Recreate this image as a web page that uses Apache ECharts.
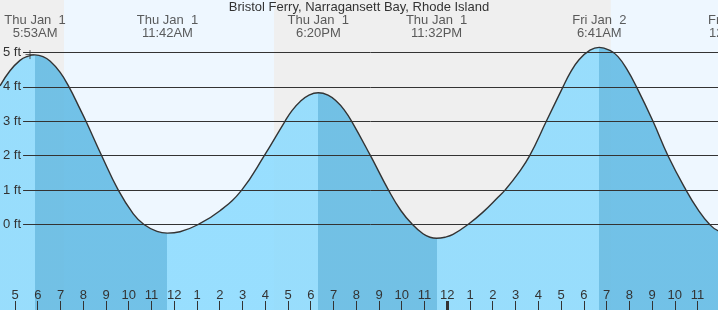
<!DOCTYPE html>
<html><head><meta charset="utf-8">
<script src="https://cdn.jsdelivr.net/npm/echarts@6/dist/echarts.min.js"></script>
<style>html,body{margin:0;padding:0;background:#fff}#c{width:718px;height:310px}</style>
</head><body><div id="c"></div>
<script>
const titleText = 'Bristol Ferry, Narragansett Bay, Rhode Island';
// hours since midnight, Thu Jan 1
const tideTimes = [4.341, 4.780, 5.220, 5.527, 5.883, 6.231, 6.538, 6.978, 7.374, 7.857, 8.121, 8.811, 9.541,
  10.200, 10.670, 11.242, 11.700, 12.253, 13.057, 14.011, 14.965, 15.958, 16.868, 17.176, 17.527, 17.923,
  18.333, 18.758, 19.154, 19.462, 19.800, 20.626, 21.418, 21.967, 22.473, 22.934, 23.242, 23.533, 23.901,
  24.253, 24.912, 25.571, 26.231, 26.538, 27.110, 27.624, 28.354, 29.088, 29.396, 29.791, 30.275, 30.683,
  31.154, 31.505, 31.901, 32.319, 33.044, 33.703, 34.495, 35.022, 35.536, 35.901, 36.650];
const tideHeights = [4.03, 4.47, 4.77, 4.88, 4.93, 4.88, 4.75, 4.43, 4.0, 3.36, 3.0, 2.0, 1.0,
  0.31, 0.0, -0.20, -0.25, -0.21, 0.0, 0.40, 1.0, 2.0, 3.0, 3.31, 3.57, 3.76,
  3.83, 3.76, 3.57, 3.34, 3.0, 2.0, 1.0, 0.40, 0.0, -0.27, -0.37, -0.40, -0.37,
  -0.29, 0.0, 0.36, 0.79, 1.0, 1.48, 2.0, 3.0, 4.0, 4.40, 4.79, 5.07, 5.15,
  5.06, 4.88, 4.51, 4.0, 3.0, 2.0, 1.0, 0.43, 0.0, -0.18, -0.30];
const extremeTimes = [5.883, 11.7, 18.333, 23.533, 30.683, 36.65];
const extremeLabels = ['Thu Jan  1\n5:53AM', 'Thu Jan  1\n11:42AM', 'Thu Jan  1\n6:20PM',
  'Thu Jan  1\n11:32PM', 'Fri Jan  2\n6:41AM', 'Fri Jan  2\n12:39PM'];
const fallingStarts = [5.883, 18.333, 30.683];
const fallingEnds = [11.7, 23.533, 36.65];
const nightStarts = [4.341, 16.385];
const nightEnds = [7.154, 31.185];
const hourTicks = [5,6,7,8,9,10,11,12,13,14,15,16,17,18,19,20,21,22,23,24,25,26,27,28,29,30,31,32,33,34,35,36];
const midnightTicks = [24];
const heightTicks = [0, 1, 2, 3, 4, 5];
const nowMarker = [[5.66, 4.94]];

const xMin = 4.341, xMax = 35.901, yMin = -2.4855, yMax = 6.5262;
const labelLevel = 5.75;
const FONT = '"Liberation Sans", Arial, sans-serif';
const TXT = '#333';
const FS = 13;
const light = 'rgb(137,218,254)', dark = 'rgb(92,184,227)';

const chart = echarts.init(document.getElementById('c'), null, {renderer: 'canvas'});
chart.setOption({
  animation: false,
  backgroundColor: '#eef7ff',
  textStyle: {fontFamily: FONT},
  title: {text: titleText, left: 'center', top: 1, padding: 0,
    textStyle: {fontSize: FS, fontWeight: 'normal', color: TXT, fontFamily: FONT}},
  grid: [{left: 0, right: 0, top: 0, bottom: 0}, {left: 22, right: 0, top: 0, bottom: 0}],
  xAxis: [
    {gridIndex: 0, type: 'value', min: xMin, max: xMax, position: 'bottom', z: 10,
      axisLine: {show: false, onZero: false}, splitLine: {show: false},
      axisTick: {show: true, inside: true, length: 9, customValues: hourTicks, lineStyle: {color: TXT, width: 1}},
      axisLabel: {show: true, inside: true, margin: 8, customValues: hourTicks, color: TXT, fontSize: FS, fontFamily: FONT,
        hideOverlap: false, formatter: v => String((Math.round(v) % 12) || 12)}},
    {gridIndex: 0, type: 'value', min: xMin, max: xMax, position: 'bottom', z: 10,
      axisLine: {show: false, onZero: false}, splitLine: {show: false}, axisLabel: {show: false},
      axisTick: {show: true, inside: true, length: 9, customValues: midnightTicks, lineStyle: {color: TXT, width: 3}}},
    {gridIndex: 1, type: 'value', min: 0, max: 1, show: false}
  ],
  yAxis: [
    {gridIndex: 0, type: 'value', min: yMin, max: yMax, show: false},
    {gridIndex: 1, type: 'value', min: yMin, max: yMax, z: 10,
      axisLine: {show: false, onZero: false}, axisTick: {show: false}, splitLine: {show: false},
      axisLabel: {show: true, customValues: heightTicks, margin: 2, color: TXT, fontSize: FS, fontFamily: FONT,
        formatter: v => v + ' ft'}}
  ],
  visualMap: {
    type: 'piecewise', show: false, dimension: 0, seriesIndex: 2,
    pieces: fallingStarts.map((s, i) => ({gte: s, lt: fallingEnds[i], color: dark})),
    outOfRange: {color: light}
  },
  series: [
    {type: 'line', xAxisIndex: 0, yAxisIndex: 0, data: [], z: 0, silent: true,
      markArea: {silent: true, itemStyle: {color: '#efefef'},
        data: nightStarts.map((s, i) => [{xAxis: s}, {xAxis: nightEnds[i]}])}},
    {type: 'line', xAxisIndex: 2, yAxisIndex: 1, data: [], z: 1, silent: true,
      markLine: {silent: true, symbol: 'none', label: {show: false}, animation: false,
        lineStyle: {color: TXT, width: 1, type: 'solid'},
        data: heightTicks.map(v => ({yAxis: v}))}},
    {type: 'line', xAxisIndex: 0, yAxisIndex: 0, z: 2, smooth: 0.45, showSymbol: false, silent: true,
      data: tideTimes.map((t, i) => [t, tideHeights[i]]),
      lineStyle: {color: TXT, width: 1.4},
      areaStyle: {origin: 'start', opacity: 0.85}},
    {type: 'scatter', xAxisIndex: 0, yAxisIndex: 0, z: 10, clip: false, silent: true,
      symbolSize: 1, itemStyle: {color: 'rgba(0,0,0,0)'},
      data: extremeTimes.map(t => [t, labelLevel]),
      label: {show: true, position: 'inside', formatter: p => extremeLabels[p.dataIndex],
        color: TXT, fontSize: FS, lineHeight: 13, fontFamily: FONT}},
    {type: 'scatter', xAxisIndex: 0, yAxisIndex: 0, z: 5, silent: true,
      symbol: 'path://M4.5,0V9M0,4.5H9', symbolSize: 9,
      itemStyle: {color: 'none', borderColor: TXT, borderWidth: 1},
      data: nowMarker}
  ]
});
</script>
</body></html>
